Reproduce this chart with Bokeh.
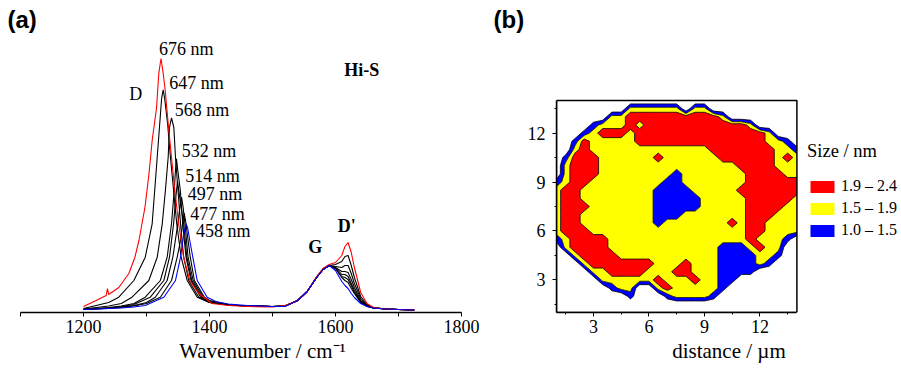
import numpy as np
from bokeh.plotting import figure
from bokeh.layouts import row
from bokeh.models import Range1d, FixedTicker, Label, Legend, LegendItem
from bokeh.embed import file_html
from bokeh.resources import INLINE

# ---------------- panel (a): Raman spectra ----------------
# D-band part of every spectrum (wavenumber / intensity pairs)
wn_676 = [1200, 1220, 1236, 1238, 1240, 1256, 1272, 1281.5, 1288, 1297.5, 1304, 1309, 1316,
          1319.5, 1323, 1326.5, 1329.7, 1334.4, 1339.7, 1345, 1351, 1359, 1368.7, 1383, 1404,
          1430, 1460, 1500]
I_676 = [6, 12, 17, 24, 18, 25, 39, 55, 72, 105, 139, 172, 205,
         239, 254, 239, 222, 189, 155, 122, 89, 55, 32, 19, 9,
         7, 6, 5.5]
wn_647 = [1200, 1220, 1240, 1256, 1280, 1298, 1309, 1313, 1317, 1321, 1324, 1326.5, 1329,
          1333.5, 1338, 1343, 1348, 1355, 1364.6, 1380.5, 1400, 1430, 1460, 1500]
I_647 = [4, 7, 10, 15.3, 32, 55.3, 88.7, 122, 155.3, 188.7, 214, 222.7, 213,
         188.7, 155.3, 122, 88.7, 55.3, 32, 15.3, 10, 7.5, 6.5, 6]
wn_568 = [1200, 1220, 1240, 1260, 1277, 1303.7, 1317, 1325, 1330, 1334.4, 1336.5, 1339.7,
          1343.4, 1346, 1350, 1354, 1359, 1367, 1383, 1400, 1430, 1460, 1500]
I_568 = [3.5, 5, 6.5, 9, 15.3, 32, 55.3, 88.7, 122, 155.3, 185, 194.7,
         185, 155.3, 122, 88.7, 55.3, 32, 15.3, 10, 7.5, 6.5, 6]
wn_532 = [1200, 1220, 1240, 1260, 1280, 1298, 1322, 1332.8, 1339.7, 1344, 1346, 1347.6,
          1349.5, 1353.7, 1357.5, 1362.7, 1370.6, 1386, 1400, 1430, 1460, 1500]
I_532 = [3, 4, 5, 6.5, 9, 15.3, 32, 55.3, 88.7, 122, 142, 153.7,
         143, 122, 88.7, 55.3, 32, 15.3, 10.5, 7.5, 6.5, 6]
wn_514 = [1200, 1220, 1240, 1260, 1280, 1306, 1327.5, 1336.5, 1343, 1346.5, 1349.2,
          1351.5, 1355, 1359, 1364, 1372, 1388, 1400, 1430, 1460, 1500]
I_514 = [3, 4, 4.5, 6, 8, 15.3, 32, 55.3, 88.7, 115, 131.3,
         121, 105, 88.7, 55.3, 32, 15.3, 11, 7.5, 6.5, 6]
wn_497 = [1200, 1220, 1240, 1260, 1280, 1300, 1314, 1332.8, 1341.8, 1349.7, 1353, 1355.6,
          1358, 1361, 1366, 1374, 1390, 1400, 1430, 1460, 1500]
I_497 = [3, 3.5, 4.5, 5.5, 7, 10, 15.3, 32, 55.3, 88.7, 105, 115.3,
         106, 88.7, 55.3, 32, 15.3, 11.5, 7.5, 6.5, 6]
wn_477 = [1200, 1220, 1240, 1260, 1280, 1300, 1322, 1339.7, 1348.7, 1354, 1357.5, 1359.8,
          1362.5, 1366, 1369.5, 1376, 1392, 1400, 1430, 1460, 1500]
I_477 = [3, 3.5, 4, 5, 6.5, 9, 15.3, 32, 55.3, 72, 90, 99.3,
         90, 72, 55.3, 32, 15.3, 12, 8, 6.5, 6]
wn_458 = [1200, 1220, 1240, 1260, 1280, 1298, 1327.5, 1346, 1354, 1357.7, 1360.5, 1363,
          1365.5, 1368.7, 1373.5, 1380.5, 1396.3, 1410, 1430, 1460, 1500]
I_458 = [3, 3.5, 4, 4.5, 5.5, 7, 15.3, 32, 55.3, 72, 83, 88.7,
         84, 72, 55.3, 32, 15.3, 11, 8.5, 7, 6]

# G / D' part, sampled at the same wavenumbers for all spectra
wn_G = [1520, 1540, 1555, 1570, 1580, 1590, 1600, 1610, 1615, 1620,
        1625, 1630, 1640, 1650, 1660, 1680, 1700, 1725]
G_676 = [7, 12, 21, 36, 44, 48, 50, 57, 66, 70, 60, 45, 20, 9, 5, 3.5, 3, 2.5]
G_647 = [6.5, 12, 21, 35, 43, 47, 48, 51, 56, 57, 47, 35, 16, 8, 5, 3.5, 3, 2.5]
G_568 = [6.5, 12, 21, 35, 43, 47, 46, 45, 47, 47, 39, 29, 14, 7, 5, 3.5, 3, 2.5]
G_532 = [6.5, 12, 21, 35, 43, 47, 45, 41, 41, 40, 33, 25, 12, 7, 4.5, 3.5, 3, 2.5]
G_514 = [6.5, 12, 21, 35, 43, 47, 45, 38, 38, 36, 29, 22, 11, 6.5, 4.5, 3.5, 3, 2.5]
G_497 = [6.5, 12, 21, 35, 43, 47, 44, 36, 35, 33, 27, 20, 11, 6.5, 4.5, 3.5, 3, 2.5]
G_477 = [6.5, 12, 21, 35, 43, 47, 44, 35, 32, 30, 24, 19, 10, 6, 4.5, 3.5, 3, 2.5]
G_458 = [6, 12, 21, 35, 43, 47, 42, 31, 27, 24, 19, 15, 9, 6, 4.5, 3.5, 3, 2.5]

black_spectra = [(wn_647, I_647, G_647), (wn_568, I_568, G_568), (wn_532, I_532, G_532),
                 (wn_514, I_514, G_514), (wn_497, I_497, G_497), (wn_477, I_477, G_477)]
laser_labels = ["676 nm", "647 nm", "568 nm", "532 nm", "514 nm", "497 nm", "477 nm", "458 nm"]
x_ticks_a = [1200, 1400, 1600, 1800]
x_minor_a = [1100, 1300, 1500, 1700]

# ---------------- panel (b): crystallite size map ----------------
size_x = [1.0 + 0.5 * i for i in range(27)]
size_y = [1.0 + 0.5 * i for i in range(27)]
# class of each grid node, rows from y = 14 (top) to y = 1 (bottom)
# 0 = outside, 1 = 1.0-1.5 nm, 2 = 1.5-1.9 nm, 3 = 1.9-2.4 nm
size_rows = [
    "000000000000000000000000000",
    "000000002222220220000000000",
    "000000223333333333200000000",
    "000012223233333333333200000",
    "000123332333333333333332000",
    "001322222333333333333332210",
    "002322222222222223333333221",
    "013332222223222222333333232",
    "023332222222222222223333222",
    "023332222222212222222333322",
    "123322222222112222222333333",
    "233222222221111222223333333",
    "233222222221111122222333332",
    "233322222221111122222333322",
    "233222222221112222222333222",
    "233222222221222222232332222",
    "233322222222222222222332222",
    "123333222222222222222322210",
    "023333222222222222111232200",
    "002333322222222222111122100",
    "000233333332223222111121000",
    "000022333322233222111100000",
    "000002222223222322110000000",
    "000000122002322222100000000",
    "000000001000122221000000000",
    "000000000000000000000000000",
    "000000000000000000000000000",
]
class_size = {"0": 0.5, "1": 1.25, "2": 1.7, "3": 2.15}
size_levels = [1.0, 1.5, 1.9, 2.4]
size_labels = ["1.9 \u2013 2.4", "1.5 \u2013 1.9", "1.0 \u2013 1.5"]
size_fill = ["#0000ff", "#ffff00", "#ff0000"]
legend_fill = ["#ff0000", "#ffff00", "#0000ff"]
ticks_b = [3, 6, 9, 12]
minor_b = [1.5, 4.5, 7.5, 10.5, 13.5]
box_x = [1, 14, 14, 1, 1]
box_y = [1, 1, 14, 14, 1]

SERIF = "Liberation Serif"

def style_axis(ax, minor_out):
    ax.major_tick_out = 4
    ax.major_tick_in = 0
    ax.minor_tick_out = minor_out
    ax.minor_tick_in = 0
    ax.axis_line_width = 1.5
    ax.axis_line_color = "black"
    ax.major_tick_line_color = "black"
    ax.minor_tick_line_color = "black"
    ax.major_label_text_font = SERIF
    ax.major_label_text_font_size = "18px"
    ax.major_label_text_color = "black"
    ax.axis_label_text_font = SERIF
    ax.axis_label_text_font_size = "21px"
    ax.axis_label_text_font_style = "normal"
    ax.axis_label_text_color = "black"

# ================= figure (a) =================
PA_W = 524
pa = figure(width=PA_W, height=369,
            x_range=Range1d(1100 - 20 / 0.63, 1100 + (PA_W - 20) / 0.63),
            y_range=Range1d(0, 312),
            output_backend="svg", toolbar_location=None, y_axis_location=None,
            min_border_left=0, min_border_right=0, min_border_top=0, min_border_bottom=57)
pa.grid.visible = False
pa.outline_line_color = None

for wn, I, G in black_spectra:
    pa.line(wn + wn_G, I + G, line_color="black", line_width=1.1)
pa.line(wn_676 + wn_G, I_676 + G_676, line_color="#ff0000", line_width=1.1)
pa.line(wn_458 + wn_G, I_458 + G_458, line_color="#0000ff", line_width=1.1)

xa = pa.xaxis[0]
xa.ticker = FixedTicker(ticks=x_ticks_a, minor_ticks=x_minor_a)
xa.bounds = (1100, 1800)
style_axis(xa, 4)
xa.major_label_standoff = 3
xa.axis_label = "Wavenumber / cm\u207b\u00b9"
xa.axis_label_standoff = 3

label_pos = [(1320, 264), (1336, 230), (1345, 203), (1356, 162),
             (1361.6, 136.5), (1365.4, 118.3), (1369.5, 99), (1378.6, 81.7)]
for (lx, ly), txt in zip(label_pos, laser_labels):
    pa.add_layout(Label(x=lx, y=ly, text=txt, text_font=SERIF, text_font_size="18px",
                        text_baseline="middle", text_align="left", text_color="black"))
for lx, ly, txt, style in [(1272.7, 219, "D", "normal"), (1614, 243, "Hi-S", "bold"),
                           (1556.8, 65.3, "G", "bold"), (1603.5, 87, "D'", "bold")]:
    pa.add_layout(Label(x=lx, y=ly, text=txt, text_font=SERIF, text_font_size="18px",
                        text_font_style=style, text_baseline="middle", text_align="left",
                        text_color="black"))
for lx, txt in [(1100 + (7 - 20) / 0.63, "(a)"), (1100 + (493 - 20) / 0.63, "(b)")]:
    pa.add_layout(Label(x=lx, y=293, text=txt, text_font="Liberation Sans",
                        text_font_size="24px", text_font_style="bold", text_baseline="middle",
                        text_align="left", text_color="black"))

# ================= figure (b) =================
PB_W = 901 - PA_W
PB_LEFT = 554 - PA_W
sx_b = 18.6
sy_b = 212.0 / 13.0
pb = figure(width=PB_W, height=369,
            x_range=Range1d(1, 1 + (PB_W - PB_LEFT) / sx_b),
            y_range=Range1d(1, 1 + 312 / sy_b),
            output_backend="svg", toolbar_location=None,
            min_border_left=PB_LEFT, min_border_right=0, min_border_top=0, min_border_bottom=57)
pb.grid.visible = False
pb.outline_line_color = None

Z = np.array([[class_size[c] for c in r.ljust(27, "0")[:27]] for r in size_rows[::-1]])
pb.contour(x=np.array(size_x), y=np.array(size_y), z=Z, levels=size_levels,
           fill_color=size_fill, line_color="black", line_width=0.8)
pb.line(box_x, box_y, line_color="black", line_width=1.5)

for ax in (pb.xaxis[0], pb.yaxis[0]):
    ax.ticker = FixedTicker(ticks=ticks_b, minor_ticks=minor_b)
    ax.bounds = (1, 14)
    style_axis(ax, 2)
pb.xaxis[0].major_label_standoff = 3
pb.yaxis[0].major_label_standoff = 7
pb.xaxis[0].axis_label = "distance / \u00b5m"
pb.xaxis[0].axis_label_standoff = 3

legend_renderers = []
for col in legend_fill:
    legend_renderers.append(pb.quad(left=[-20], right=[-19], bottom=[-20], top=[-19],
                                    fill_color=col, line_color=None))
legend = Legend(items=[LegendItem(label=lab, renderers=[r])
                       for lab, r in zip(size_labels, legend_renderers)],
                location=(251, 73), title="Size / nm", orientation="vertical")
legend.title_text_font = SERIF
legend.title_text_font_size = "18.5px"
legend.title_text_font_style = "normal"
legend.title_text_color = "black"
legend.title_standoff = 15
legend.label_text_font = SERIF
legend.label_text_font_size = "16px"
legend.label_text_color = "black"
legend.glyph_width = 30
legend.glyph_height = 15
legend.label_standoff = 4
legend.spacing = 4
legend.padding = 2
legend.margin = 0
legend.border_line_color = None
legend.background_fill_alpha = 0
pb.add_layout(legend, "center")

layout = row(pa, pb)
open("out.html", "w").write(file_html(layout, INLINE))
